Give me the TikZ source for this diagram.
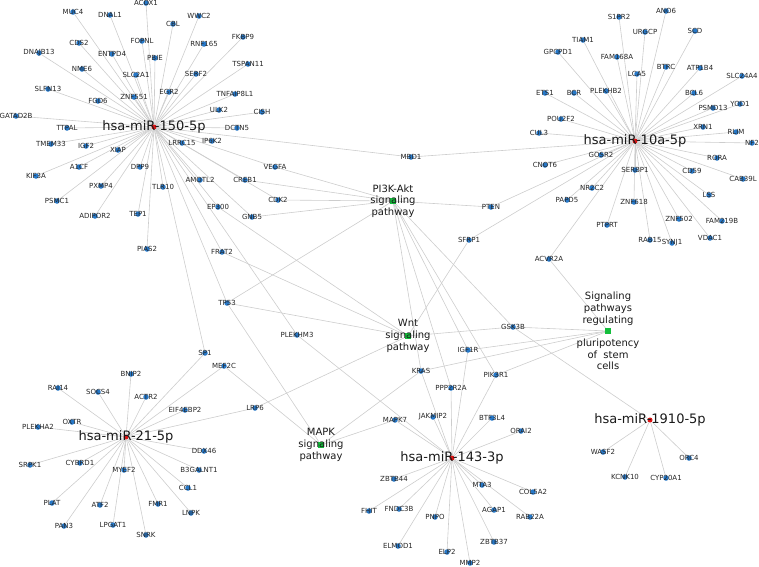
\documentclass[tikz,border=0pt]{standalone}
\usepackage{fontspec}
\setmainfont{DejaVu Sans}
\usetikzlibrary{backgrounds}

\definecolor{geneblue}{RGB}{38,120,200}
\definecolor{mirred}{RGB}{220,20,20}
\definecolor{pwgreen}{RGB}{20,190,60}
\definecolor{edgegray}{RGB}{205,205,205}

\tikzset{
  gene/.style={circle,fill=geneblue,inner sep=0pt,minimum size=5.5pt,
    label={[text=black!85,font=\fontsize{7}{8}\selectfont,inner sep=0pt]center:#1}},
  mir/.style={circle,fill=mirred,inner sep=0pt,minimum size=5pt,
    label={[text=black!90,font=\fontsize{13}{15}\selectfont,inner sep=0pt]center:#1}},
  pway/.style={rectangle,fill=pwgreen,inner sep=0pt,minimum size=6pt,
    label={[text=black!90,font=\fontsize{10}{11.7}\selectfont,align=center,inner sep=0pt]center:#1}},
  edge/.style={draw=edgegray,line width=0.6pt}
}

\begin{document}
\begin{tikzpicture}[x=1pt,y=-1pt]
  \useasboundingbox (0,0) rectangle (759,566);

  % microRNAs
  \node[mir={hsa-miR-150-5p}] (m150) at (154,127) {};
  \node[mir={hsa-miR-10a-5p}] (m10a) at (635,141) {};
  \node[mir={hsa-miR-21-5p}] (m21) at (126,437) {};
  \node[mir={hsa-miR-143-3p}] (m143) at (452,458) {};
  \node[mir={hsa-miR-1910-5p}] (m1910) at (650,420) {};

  % pathways
  \node[pway={PI3K-Akt\\signaling\\pathway}] (pi3k) at (393,201) {};
  \node[pway={Wnt\\signaling\\pathway}] (wnt) at (408,336) {};
  \node[pway={MAPK\\signaling\\pathway}] (mapk) at (321,445) {};
  \node[pway={Signaling\\pathways\\regulating\\[11.7pt]pluripotency\\of\ \ stem\\cells}] (pluri) at (608,331) {};

  % targets of miR-150-5p
  \node[gene=MUC4] (MUC4) at (73,12) {};
  \node[gene=DNAL1] (DNAL1) at (110,15) {};
  \node[gene=ACOX1] (ACOX1) at (146,3) {};
  \node[gene=WWC2] (WWC2) at (199,16) {};
  \node[gene=CBL] (CBL) at (173,24) {};
  \node[gene=FOPNL] (FOPNL) at (142,41) {};
  \node[gene=RNF165] (RNF165) at (204,44) {};
  \node[gene=FKBP9] (FKBP9) at (243,37) {};
  \node[gene=CDS2] (CDS2) at (79,43) {};
  \node[gene=DNAJB13] (DNAJB13) at (39,53) {};
  \node[gene=ENTPD4] (ENTPD4) at (112,54) {};
  \node[gene=PBIE] (PBIE) at (155,58) {};
  \node[gene=TSPAN11] (TSPAN11) at (248,64) {};
  \node[gene=SERF2] (SERF2) at (196,74) {};
  \node[gene=NME6] (NME6) at (82,69) {};
  \node[gene=SLC2A1] (SLC2A1) at (136,75) {};
  \node[gene=SLFN13] (SLFN13) at (48,89) {};
  \node[gene=FGD6] (FGD6) at (98,101) {};
  \node[gene=ZNF551] (ZNF551) at (134,97) {};
  \node[gene=EGR2] (EGR2) at (169,92) {};
  \node[gene=TNFAIP8L1] (TNFAIP8L1) at (235,94) {};
  \node[gene=GATAD2B] (GATAD2B) at (16,116) {};
  \node[gene=ULK2] (ULK2) at (219,110) {};
  \node[gene=CISH] (CISH) at (262,112) {};
  \node[gene=TTPAL] (TTPAL) at (67,128) {};
  \node[gene=DCTN5] (DCTN5) at (237,128) {};
  \node[gene=TMEM33] (TMEM33) at (51,144) {};
  \node[gene=IGF2] (IGF2) at (86,146) {};
  \node[gene=LRRC15] (LRRC15) at (182,143) {};
  \node[gene=IP6K2] (IP6K2) at (212,141) {};
  \node[gene=XIAP] (XIAP) at (118,150) {};
  \node[gene=A1CF] (A1CF) at (79,167) {};
  \node[gene=KIF3A] (KIF3A) at (36,176) {};
  \node[gene=DPP9] (DPP9) at (140,167) {};
  \node[gene=PXMP4] (PXMP4) at (101,186) {};
  \node[gene=TLR10] (TLR10) at (163,187) {};
  \node[gene=AMOTL2] (AMOTL2) at (200,180) {};
  \node[gene=CREB1] (CREB1) at (245,180) {};
  \node[gene=PSMC1] (PSMC1) at (57,201) {};
  \node[gene=EP300] (EP300) at (218,207) {};
  \node[gene=ADIPOR2] (ADIPOR2) at (95,216) {};
  \node[gene=TEP1] (TEP1) at (138,214) {};
  \node[gene=GNB5] (GNB5) at (252,217) {};
  \node[gene=PIAS2] (PIAS2) at (147,249) {};
  \node[gene=FRAT2] (FRAT2) at (222,252) {};
  \node[gene=VEGFA] (VEGFA) at (275,167) {};
  \node[gene=CDK2] (CDK2) at (278,200) {};
  \node[gene=MBD1] (MBD1) at (411,157) {};
  \node[gene=TP53] (TP53) at (227,303) {};
  \node[gene=PLEKHM3] (PLEKHM3) at (297,335) {};

  % targets of miR-10a-5p
  \node[gene=S1PR2] (S1PR2) at (619,17) {};
  \node[gene=ANO6] (ANO6) at (666,11) {};
  \node[gene=URGCP] (URGCP) at (645,32) {};
  \node[gene=SCD] (SCD) at (695,31) {};
  \node[gene=TIAM1] (TIAM1) at (583,40) {};
  \node[gene=GPCPD1] (GPCPD1) at (558,52) {};
  \node[gene=FAM168A] (FAM168A) at (617,57) {};
  \node[gene=BTRC] (BTRC) at (666,67) {};
  \node[gene=ATP1B4] (ATP1B4) at (700,68) {};
  \node[gene=LCA5] (LCA5) at (637,74) {};
  \node[gene=SLC24A4] (SLC24A4) at (742,76) {};
  \node[gene=ETS1] (ETS1) at (545,93) {};
  \node[gene=BCR] (BCR) at (574,93) {};
  \node[gene=PLEKHB2] (PLEKHB2) at (606,91) {};
  \node[gene=BCL6] (BCL6) at (694,93) {};
  \node[gene=YOD1] (YOD1) at (740,104) {};
  \node[gene=PSMD13] (PSMD13) at (713,108) {};
  \node[gene=POU2F2] (POU2F2) at (561,119) {};
  \node[gene=XRN1] (XRN1) at (703,127) {};
  \node[gene=CUL3] (CUL3) at (539,133) {};
  \node[gene=RLIM] (RLIM) at (736,132) {};
  \node[gene=NF2] (NF2) at (752,143) {};
  \node[gene=GOSR2] (GOSR2) at (601,155) {};
  \node[gene=CNOT6] (CNOT6) at (545,165) {};
  \node[gene=RORA] (RORA) at (717,158) {};
  \node[gene=SERBP1] (SERBP1) at (635,170) {};
  \node[gene=CD59] (CD59) at (692,171) {};
  \node[gene=CAB39L] (CAB39L) at (743,179) {};
  \node[gene=NR2C2] (NR2C2) at (592,188) {};
  \node[gene=PAPD5] (PAPD5) at (567,200) {};
  \node[gene=ZNF618] (ZNF618) at (634,202) {};
  \node[gene=LSS] (LSS) at (709,195) {};
  \node[gene=ZNF502] (ZNF502) at (679,219) {};
  \node[gene=FAM219B] (FAM219B) at (722,221) {};
  \node[gene=PTPRT] (PTPRT) at (607,225) {};
  \node[gene=RAB15] (RAB15) at (650,240) {};
  \node[gene=SYNJ1] (SYNJ1) at (672,243) {};
  \node[gene=VDAC1] (VDAC1) at (710,238) {};
  \node[gene=ACVR2A] (ACVR2A) at (549,259) {};
  \node[gene=PTEN] (PTEN) at (491,207) {};
  \node[gene=SFRP1] (SFRP1) at (469,240) {};

  % targets of miR-21-5p
  \node[gene=SP1] (SP1) at (205,353) {};
  \node[gene=MEF2C] (MEF2C) at (224,366) {};
  \node[gene=BNIP2] (BNIP2) at (131,374) {};
  \node[gene=RAI14] (RAI14) at (58,388) {};
  \node[gene=SOCS4] (SOCS4) at (98,392) {};
  \node[gene=ACTR2] (ACTR2) at (146,397) {};
  \node[gene=EIF4EBP2] (EIF4EBP2) at (185,410) {};
  \node[gene=LRP6] (LRP6) at (255,408) {};
  \node[gene=OXTR] (OXTR) at (72,422) {};
  \node[gene=PLEKHA2] (PLEKHA2) at (38,427) {};
  \node[gene=SRPK1] (SRPK1) at (30,465) {};
  \node[gene=CYBRD1] (CYBRD1) at (80,463) {};
  \node[gene=MYEF2] (MYEF2) at (124,470) {};
  \node[gene=DDX46] (DDX46) at (204,451) {};
  \node[gene=B3GALNT1] (B3GALNT1) at (199,470) {};
  \node[gene=CCL1] (CCL1) at (188,488) {};
  \node[gene=PLAT] (PLAT) at (52,503) {};
  \node[gene=ATF2] (ATF2) at (100,505) {};
  \node[gene=FMR1] (FMR1) at (158,504) {};
  \node[gene=LNPK] (LNPK) at (191,513) {};
  \node[gene=PAN3] (PAN3) at (64,526) {};
  \node[gene=LPGAT1] (LPGAT1) at (113,525) {};
  \node[gene=SNRK] (SNRK) at (146,535) {};

  % targets of miR-143-3p
  \node[gene=GSK3B] (GSK3B) at (513,327) {};
  \node[gene=IGF1R] (IGF1R) at (468,350) {};
  \node[gene=KRAS] (KRAS) at (421,371) {};
  \node[gene=PIK3R1] (PIK3R1) at (496,375) {};
  \node[gene=PPP2R2A] (PPP2R2A) at (451,388) {};
  \node[gene=MAPK7] (MAPK7) at (395,420) {};
  \node[gene=JAKMIP2] (JAKMIP2) at (433,417) {};
  \node[gene=BTF3L4] (BTF3L4) at (492,418) {};
  \node[gene=ORAI2] (ORAI2) at (521,431) {};
  \node[gene=ZBTB44] (ZBTB44) at (394,479) {};
  \node[gene=MTA3] (MTA3) at (482,485) {};
  \node[gene=FHIT] (FHIT) at (369,511) {};
  \node[gene=FNDC3B] (FNDC3B) at (399,509) {};
  \node[gene=PNPO] (PNPO) at (435,517) {};
  \node[gene=AGAP1] (AGAP1) at (494,510) {};
  \node[gene=ELMOD1] (ELMOD1) at (398,546) {};
  \node[gene=ELP2] (ELP2) at (447,552) {};
  \node[gene=ZBTB37] (ZBTB37) at (494,542) {};
  \node[gene=MMP2] (MMP2) at (470,563) {};
  \node[gene=COL5A2] (COL5A2) at (533,492) {};
  \node[gene=RAB22A] (RAB22A) at (530,517) {};

  % targets of miR-1910-5p
  \node[gene=WASF2] (WASF2) at (603,452) {};
  \node[gene=ORC4] (ORC4) at (689,458) {};
  \node[gene=KCNK10] (KCNK10) at (625,477) {};
  \node[gene=CYP20A1] (CYP20A1) at (666,478) {};

  \begin{scope}[on background layer]
    \foreach \g in {MUC4,DNAL1,ACOX1,WWC2,CBL,FOPNL,RNF165,FKBP9,CDS2,DNAJB13,
        ENTPD4,PBIE,TSPAN11,SERF2,NME6,SLC2A1,SLFN13,FGD6,ZNF551,EGR2,TNFAIP8L1,
        GATAD2B,ULK2,CISH,TTPAL,DCTN5,TMEM33,IGF2,LRRC15,IP6K2,XIAP,A1CF,KIF3A,
        DPP9,PXMP4,TLR10,AMOTL2,CREB1,PSMC1,EP300,ADIPOR2,TEP1,GNB5,PIAS2,FRAT2,
        VEGFA,CDK2,MBD1,TP53,SP1,PLEKHM3}
      \draw[edge] (m150) -- (\g);
    \foreach \g in {S1PR2,ANO6,URGCP,SCD,TIAM1,GPCPD1,FAM168A,BTRC,ATP1B4,LCA5,
        SLC24A4,ETS1,BCR,PLEKHB2,BCL6,YOD1,PSMD13,POU2F2,XRN1,CUL3,RLIM,NF2,
        GOSR2,CNOT6,RORA,SERBP1,CD59,CAB39L,NR2C2,PAPD5,ZNF618,LSS,ZNF502,
        FAM219B,PTPRT,RAB15,SYNJ1,VDAC1,ACVR2A,MBD1,PTEN,SFRP1}
      \draw[edge] (m10a) -- (\g);
    \foreach \g in {SP1,MEF2C,BNIP2,RAI14,SOCS4,ACTR2,EIF4EBP2,LRP6,OXTR,PLEKHA2,
        SRPK1,CYBRD1,MYEF2,DDX46,B3GALNT1,CCL1,PLAT,ATF2,FMR1,LNPK,PAN3,LPGAT1,SNRK}
      \draw[edge] (m21) -- (\g);
    \foreach \g in {PLEKHM3,IGF1R,KRAS,PIK3R1,PPP2R2A,MAPK7,JAKMIP2,BTF3L4,ORAI2,
        ZBTB44,MTA3,FHIT,FNDC3B,PNPO,AGAP1,ELMOD1,ELP2,ZBTB37,MMP2,COL5A2,RAB22A}
      \draw[edge] (m143) -- (\g);
    \foreach \g in {WASF2,ORC4,KCNK10,CYP20A1,GSK3B}
      \draw[edge] (m1910) -- (\g);
    \foreach \g in {VEGFA,CREB1,CDK2,GNB5,TP53,PTEN,GSK3B,IGF1R,KRAS,PIK3R1,PPP2R2A}
      \draw[edge] (pi3k) -- (\g);
    \foreach \g in {EP300,FRAT2,TP53,SFRP1,GSK3B,LRP6}
      \draw[edge] (wnt) -- (\g);
    \foreach \g in {TP53,MEF2C,MAPK7,KRAS}
      \draw[edge] (mapk) -- (\g);
    \foreach \g in {GSK3B,IGF1R,KRAS,PIK3R1,ACVR2A}
      \draw[edge] (pluri) -- (\g);
  \end{scope}
\end{tikzpicture}
\end{document}
